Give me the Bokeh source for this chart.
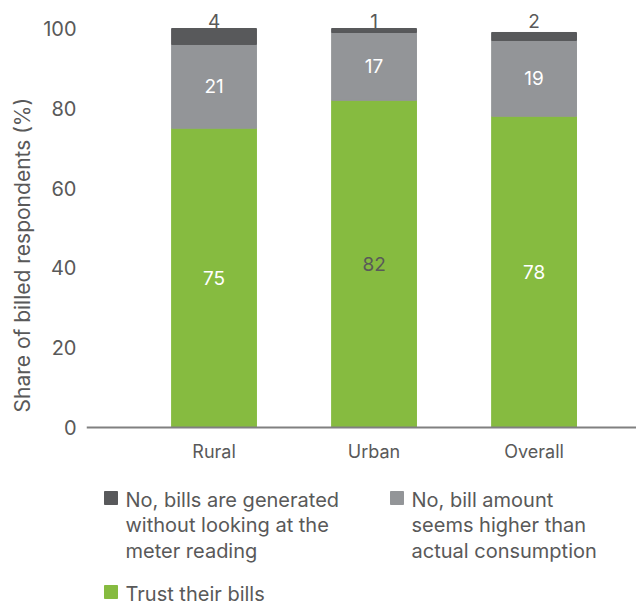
import numpy as np
from bokeh.plotting import figure
from bokeh.models import ColumnDataSource, Range1d, FixedTicker, Title, Span
from bokeh.embed import file_html
from bokeh.resources import INLINE
from bokeh.core.properties import value

# Survey data: share of billed respondents (%)
categories = ["Rural", "Urban", "Overall"]
trust = [75, 82, 78]
higher = [21, 17, 19]
no_reading = [4, 1, 2]
y_ticks = [0, 20, 40, 60, 80, 100]

series_labels = [
    "No, bills are generated\nwithout looking at the\nmeter reading",
    "No, bill amount\nseems higher than\nactual consumption",
    "Trust their bills",
]

GREEN = "#86bb40"
GREY = "#939598"
DARK = "#58595b"
TEXT = "#595959"
FONT = "Inter"
series_colors = [DARK, GREY, GREEN]
trust_label_colors = ["white", TEXT, "white"]

x = np.arange(len(categories)) + 0.5
t = np.array(trust)
h = np.array(higher)
n = np.array(no_reading)
total = t + h + n

src = ColumnDataSource(dict(
    x=x, cat=categories,
    t_top=t, h_top=t + h, n_top=total,
    t_mid=t / 2, h_mid=t + h / 2,
    lab_top=np.full(len(x), total.max()),
    t_txt=[str(v) for v in t], h_txt=[str(v) for v in h], n_txt=[str(v) for v in n],
    t_col=trust_label_colors,
))

# The frame runs from 86 to 636 px across and from 10 px down to the page
# bottom; the value axis puts 0 at 427 px and 100 at 28 px, leaving room
# underneath for category names and the legend.
W, H = 636, 601
FL, FT, ZERO_PX = 86, 10, 427
PX_PER_UNIT = (ZERO_PX - 28) / 100.0
y_lo = -(H - ZERO_PX) / PX_PER_UNIT
y_hi = (ZERO_PX - FT) / PX_PER_UNIT

p = figure(width=W, height=H,
           x_range=Range1d(-0.297, 3.14), y_range=Range1d(y_lo, y_hi),
           output_backend="svg", toolbar_location=None,
           x_axis_location=None,
           min_border_left=FL, min_border_right=0,
           min_border_top=FT, min_border_bottom=0)

# pixel-based ranges for placing the category names and the legend block
p.extra_x_ranges = {"px": Range1d(FL, W)}
p.extra_y_ranges = {"px": Range1d(H, FT)}

BAR_W = 0.53
p.vbar(x="x", bottom=0, top="t_top", width=BAR_W, color=GREEN, source=src)
p.vbar(x="x", bottom="t_top", top="h_top", width=BAR_W, color=GREY, source=src)
p.vbar(x="x", bottom="h_top", top="n_top", width=BAR_W, color=DARK, source=src)

label_kw = dict(text_align="center", text_font=value(FONT), text_font_size="19px")
p.text(x="x", y="t_mid", text="t_txt", text_color="t_col", text_baseline="middle",
       source=src, **label_kw)
p.text(x="x", y="h_mid", text="h_txt", text_color="white", text_baseline="middle",
       source=src, **label_kw)
p.text(x="x", y="lab_top", text="n_txt", text_color=TEXT, text_baseline="bottom",
       y_offset=-1, source=src, **label_kw)

# category axis: baseline at zero and names underneath
p.add_layout(Span(location=0, dimension="width", line_color="#808080", line_width=2))
p.text(x="x", y=451, y_range_name="px", text="cat", text_align="center",
       text_baseline="middle", text_font=value(FONT), text_font_size="18px",
       text_color=TEXT, source=src)

# value axis
p.yaxis.ticker = FixedTicker(ticks=y_ticks)
p.yaxis.axis_line_color = None
p.yaxis.major_tick_line_color = None
p.yaxis.minor_tick_line_color = None
p.yaxis.major_label_standoff = 4
p.yaxis.major_label_text_font = FONT
p.yaxis.major_label_text_font_size = "20px"
p.yaxis.major_label_text_color = TEXT

p.add_layout(Title(text="Share of billed respondents (%)", align="left",
                   offset=H - 412, text_font=FONT, text_font_size="21px",
                   text_font_style="normal", text_color=TEXT, standoff=12), "left")

p.grid.visible = False
p.outline_line_color = None

# legend: colour swatches with wrapped labels
sq_left = [104, 390, 104]
sq_top = [491, 491, 585]
SQ = 13
LINE_H = 25.5
p.quad(left=sq_left, right=[v + SQ for v in sq_left],
       top=sq_top, bottom=[v + SQ for v in sq_top], color=series_colors,
       x_range_name="px", y_range_name="px")

lx, ly, lt = [], [], []
for left, top, lab in zip(sq_left, sq_top, series_labels):
    for i, line in enumerate(lab.split("\n")):
        lx.append(left + 21)
        ly.append(top + 8 + i * LINE_H)
        lt.append(line)
p.text(x=lx, y=ly, text=lt, x_range_name="px", y_range_name="px",
       text_baseline="middle", text_align="left",
       text_font=value(FONT), text_font_size="20px", text_color=TEXT)

open("out.html", "w").write(file_html(p, INLINE))
